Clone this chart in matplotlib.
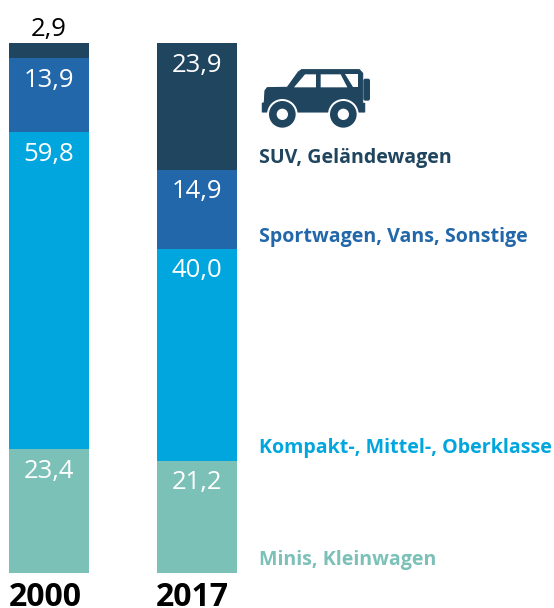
import matplotlib
matplotlib.use('Agg')
import matplotlib.pyplot as plt
from matplotlib.patches import Polygon, Circle, FancyBboxPatch

plt.rcParams['font.family'] = ['Open Sans', 'DejaVu Sans']

# Daten
jahre = ['2000', '2017']
minis = [23.4, 21.2]
kompakt = [59.8, 40.0]
sport = [13.9, 14.9]
suv = [2.9, 23.9]
minis_txt = ['23,4', '21,2']
kompakt_txt = ['59,8', '40,0']
sport_txt = ['13,9', '14,9']
suv_txt = ['2,9', '23,9']
namen = ['Minis, Kleinwagen', 'Kompakt-, Mittel-, Oberklasse', 'Sportwagen, Vans, Sonstige', 'SUV, Geländewagen']

farben = ['#7cc1b8', '#00a6dd', '#2267aa', '#20455f']

W, H = 554, 608
fig = plt.figure(figsize=(W / 100, H / 100), dpi=100)

# Achse so legen, dass 0-100 genau die Balkenhoehe ist
ax = fig.add_axes([0, (H - 573) / H, 1, 530 / H])
ax.set_xlim(-49 / 148, (W - 49) / 148)
ax.set_ylim(0, 100)
ax.axis('off')

pos = [0, 1]
unten = [0, 0]
reihen = [(minis, minis_txt), (kompakt, kompakt_txt), (sport, sport_txt), (suv, suv_txt)]
for (werte, texte), farbe in zip(reihen, farben):
    ax.bar(pos, werte, width=80 / 148, bottom=unten, color=farbe, linewidth=0)
    for i, w in enumerate(werte):
        oben = unten[i] + w
        if w < 5:
            ax.annotate(texte[i], (pos[i], oben), xytext=(0, 0.5), textcoords='offset points',
                        ha='center', va='bottom', fontsize=18.5, color='black')
        else:
            ax.annotate(texte[i], (pos[i], oben), xytext=(0, -7), textcoords='offset points',
                        ha='center', va='top', fontsize=18.5, color='white')
    unten = [u + w for u, w in zip(unten, werte)]

# Pixelachse fuer Legende, Jahre und Auto
pix = fig.add_axes([0, 0, 1, 1], facecolor='none')
pix.set_xlim(0, W)
pix.set_ylim(H, 0)
pix.axis('off')

for x, j in zip((9, 156), jahre):
    pix.text(x, 606.5, j, fontsize=23, fontweight='bold', color='black', ha='left', va='baseline')

label_y = [560, 448, 237, 158]
for name, y, farbe in zip(namen, label_y, farben):
    pix.text(259, y, name, fontsize=14.1, fontweight='bold', color=farbe, ha='left', va='center')

# Auto-Symbol
dunkel = farben[3]
def z(x, y):
    return (250 + x / 3, 50 + y / 3)

koerper = [(45, 122), (52, 113), (112, 112), (145, 66), (155, 59), (328, 59), (338, 70), (338, 160),
           (344, 160), (344, 186), (37, 186), (37, 160), (43, 158)]
pix.add_patch(Polygon([z(*p) for p in koerper], closed=True, fc=dunkel, ec=dunkel, lw=0.8, joinstyle='round'))
ersatz = FancyBboxPatch(z(340, 86), 20 / 3, 66 / 3, boxstyle='round,pad=0,rounding_size=2', fc=dunkel, ec='none')
pix.add_patch(ersatz)
fenster = [
    [(132, 112), (165, 73), (198, 73), (198, 112)],
    [(212, 73), (272, 73), (292, 112), (212, 112)],
    [(285, 73), (325, 73), (325, 112), (310, 112)],
]
for f in fenster:
    pix.add_patch(Polygon([z(*p) for p in f], closed=True, fc='white', ec='none'))
for x in (97, 280):
    mitte = z(x, 193)
    pix.add_patch(Circle(mitte, 46 / 3, fc='white', ec='none'))
    pix.add_patch(Circle(mitte, 40 / 3, fc=dunkel, ec='none'))
    pix.add_patch(Circle(mitte, 17 / 3, fc='white', ec='none'))

fig.savefig('out.png', dpi=100)
